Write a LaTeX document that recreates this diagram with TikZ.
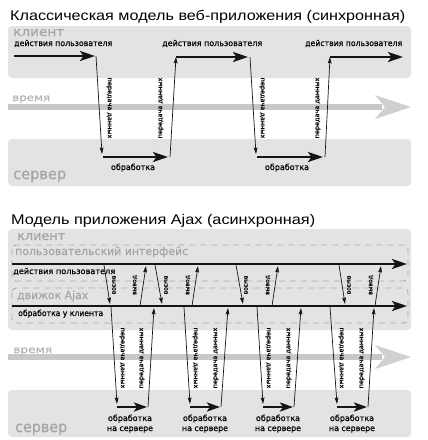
\documentclass[tikz,border=0pt]{standalone}
\usepackage{fontspec}
\setmainfont{DejaVu Sans}
\newfontfamily\titlef{Liberation Sans}
\newfontfamily\smallf[FakeBold=0.5]{DejaVu Sans}
\newfontfamily\labf[FakeBold=0.6]{DejaVu Sans}
\usetikzlibrary{arrows.meta}
\definecolor{bandc}{HTML}{E3E3E3}
\definecolor{labc}{HTML}{A5A5A5}
\definecolor{timec}{HTML}{C8C8C8}
\definecolor{timehc}{HTML}{D0D0D0}
\definecolor{timelab}{HTML}{B5B5B5}
\definecolor{dashc}{HTML}{ABABAB}
\definecolor{inkc}{HTML}{151515}
\newcommand{\wt}[2]{\resizebox{#1pt}{\height}{#2}}
\tikzset{
  band/.style={fill=bandc, draw=none, rounded corners=4pt},
  dbox/.style={draw=dashc, line width=0.9pt, dash pattern=on 6pt off 5pt, rounded corners=4pt},
  txt/.style={inner sep=0pt, anchor=base west},
  ctxt/.style={inner sep=0pt, anchor=base},
  bandlab/.style={txt, text=labc},
  small/.style={font=\smallf\fontsize{8.2}{9}\selectfont},
  thick arrow/.style={draw=inkc, line width=2.5pt, -{Stealth[length=15pt,width=10pt,inset=3.5pt]}},
  thin arrow/.style={draw=inkc, line width=0.7pt, -{Stealth[length=6.5pt,width=3.8pt,inset=1pt]}},
  rotlab/.style={inner sep=0pt, font=\smallf\fontsize{6.5}{7}\selectfont},
  shortlab/.style={inner sep=0pt, font=\smallf\fontsize{6}{7}\selectfont},
  timeline/.style={draw=timec, line width=5.5pt},
  timehead/.style={fill=timehc, draw=none}
}
\begin{document}
\begin{tikzpicture}[x=1pt,y=-1pt]
\useasboundingbox (0,0) rectangle (428,440);
\fill[white] (0,0) rectangle (428,440);

% ================= Classic model =================
\node[txt, font=\titlef\fontsize{14}{15}\selectfont] (t1) at (10,20) {\wt{395}{Классическая модель веб-приложения (синхронная)}};
\path[band] (8,26) rectangle (411,78);
\path[band] (8,139) rectangle (411,186);
\node[bandlab, font=\labf\fontsize{12.5}{13}\selectfont] (cl1) at (13,36) {\wt{51}{клиент}};
\node[bandlab, font=\labf\fontsize{15}{16}\selectfont] (sv1) at (13,179) {\wt{53}{сервер}};
\node[txt, text=timelab, font=\labf\fontsize{10}{11}\selectfont] (tm1) at (12,101) {\wt{38}{время}};
\coordinate (ta1s) at (8,107);
\coordinate (ta1e) at (382,107);
\draw[timeline] (ta1s) -- (ta1e);
\fill[timehead] (375,95) -- (411,107) -- (375,119) -- (385,107) -- cycle;

\node[txt, small] (ua1) at (14,46) {\wt{98}{действия пользователя}};
\node[txt, small] (ua2) at (162,46) {\wt{100}{действия пользователя}};
\node[txt, small] (ua3) at (305,46) {\wt{97}{действия пользователя}};
\node[ctxt, small] (pr1) at (133,170) {\wt{44}{обработка}};
\node[ctxt, small] (pr2) at (287,170) {\wt{44}{обработка}};

\coordinate (c1s) at (14,56);  \coordinate (c1e) at (95,56);
\coordinate (d1t) at (96,56);  \coordinate (d1b) at (102,154);
\coordinate (p1s) at (103,157); \coordinate (p1e) at (168,157);
\coordinate (u1b) at (170,157); \coordinate (u1t) at (176,57);
\coordinate (c2s) at (176,57); \coordinate (c2e) at (248,57);
\coordinate (d2t) at (250,57); \coordinate (d2b) at (256,154);
\coordinate (p2s) at (257,157); \coordinate (p2e) at (323,157);
\coordinate (u2b) at (325,157); \coordinate (u2t) at (330,57);
\coordinate (c3s) at (330,57); \coordinate (c3e) at (403,57);

\draw[thick arrow] (c1s) -- (c1e);
\draw[thick arrow] (c2s) -- (c2e);
\draw[thick arrow] (c3s) -- (c3e);
\draw[thick arrow] (p1s) -- (p1e);
\draw[thick arrow] (p2s) -- (p2e);
\draw[thin arrow] (d1t) -- (d1b);
\draw[thin arrow] (u1b) -- (u1t);
\draw[thin arrow] (d2t) -- (d2b);
\draw[thin arrow] (u2b) -- (u2t);
\node[rotlab, rotate=-90] (l1) at (109,108) {передача данных};
\node[rotlab, rotate=90] (l2) at (161,108) {передача данных};
\node[rotlab, rotate=-90] (l3) at (262,108) {передача данных};
\node[rotlab, rotate=90] (l4) at (318,108) {передача данных};

% ================= Ajax model =================
\node[txt, font=\titlef\fontsize{14}{15}\selectfont] (t2) at (11,224) {\wt{304}{Модель приложения Ajax (асинхронная)}};
\path[band] (8,229) rectangle (411,330);
\path[band] (8,390) rectangle (411,437);
\node[bandlab, font=\labf\fontsize{12.5}{13}\selectfont] (cl2) at (17,240) {\wt{48}{клиент}};
\node[bandlab, font=\labf\fontsize{15}{16}\selectfont] (sv2) at (15,432) {\wt{52}{сервер}};
\node[txt, text=timelab, font=\labf\fontsize{10}{11}\selectfont] (tm2) at (13,353) {\wt{39}{время}};
\coordinate (ta2s) at (8,357);
\coordinate (ta2e) at (382,357);
\draw[timeline] (ta2s) -- (ta2e);
\fill[timehead] (375,345) -- (411,357) -- (375,369) -- (385,357) -- cycle;

\draw[dbox] (12,245) rectangle (408,281);
\draw[dbox] (12,288) rectangle (408,323);
\node[bandlab, font=\labf\fontsize{11}{12}\selectfont] (ui) at (15,255) {\wt{173}{пользовательский интерфейс}};
\node[bandlab, font=\labf\fontsize{11}{12}\selectfont] (eng) at (17,299) {\wt{71}{движок Ajax}};
\node[txt, small] (ua4) at (13,274) {\wt{102}{действия пользователя}};
\node[txt, small] (ecl) at (18,316) {\wt{85}{обработка у клиента}};

\coordinate (uis) at (12,264); \coordinate (uie) at (407,264);
\coordinate (ens) at (12,306); \coordinate (ene) at (407,306);
\draw[thick arrow] (uis) -- (uie);
\draw[thick arrow] (ens) -- (ene);

% short arrows UI <-> engine
\foreach \n/\da/\db/\ua/\ub in {1/104/110/140/146, 2/155/162/192/198, 3/236/243/272/278, 4/339/345/375/381}{
  \coordinate (sd\n t) at (\da,265);
  \coordinate (sd\n b) at (\db,304);
  \coordinate (su\n b) at (\ua,306);
  \coordinate (su\n t) at (\ub,266);
  \draw[thin arrow] (sd\n t) -- (sd\n b);
  \draw[thin arrow] (su\n b) -- (su\n t);
}
\node[shortlab, rotate=-90] (sl1) at (114,285) {вызов};
\node[shortlab, rotate=90] (sl2) at (135,285) {вывод};
\node[shortlab, rotate=-90] (sl3) at (166,285) {вызов};
\node[shortlab, rotate=90] (sl4) at (188,285) {вывод};
\node[shortlab, rotate=-90] (sl5) at (246,285) {вызов};
\node[shortlab, rotate=90] (sl6) at (268,285) {вывод};
\node[shortlab, rotate=-90] (sl7) at (349,285) {вызов};
\node[shortlab, rotate=90] (sl8) at (371,285) {вывод};

% long arrows engine <-> server
\foreach \n/\da/\db/\ua/\ub in {1/111/117/148/154, 2/184/190/221/228, 3/257/263/294/301, 4/330/337/368/374}{
  \coordinate (ld\n t) at (\da,307);
  \coordinate (ld\n b) at (\db,404);
  \coordinate (lu\n b) at (\ua,407);
  \coordinate (lu\n t) at (\ub,308);
  \coordinate (lp\n s) at (\db,407);
  \coordinate (lp\n e) at (\ua-1,407);
  \draw[thin arrow] (ld\n t) -- (ld\n b);
  \draw[thin arrow] (lu\n b) -- (lu\n t);
  \draw[thick arrow, -{Stealth[length=13pt,width=9pt,inset=3pt]}] (lp\n s) -- (lp\n e);
}
\node[rotlab, rotate=-90] (ll1) at (122,358) {передача данных};
\node[rotlab, rotate=90] (ll2) at (142,358) {передача данных};
\node[rotlab, rotate=-90] (ll3) at (195,358) {передача данных};
\node[rotlab, rotate=90] (ll4) at (216,358) {передача данных};
\node[rotlab, rotate=-90] (ll5) at (268,358) {передача данных};
\node[rotlab, rotate=90] (ll6) at (289,358) {передача данных};
\node[rotlab, rotate=-90] (ll7) at (341,358) {передача данных};
\node[rotlab, rotate=90] (ll8) at (362,358) {передача данных};

\foreach \n/\cx in {1/130, 2/205, 3/278, 4/352}{
  \node[ctxt, small] (so\n) at (\cx,421) {\wt{44}{обработка}};
  \node[ctxt, small] (sn\n) at (\cx,431) {\wt{46}{на сервере}};
}
\end{tikzpicture}
\end{document}
